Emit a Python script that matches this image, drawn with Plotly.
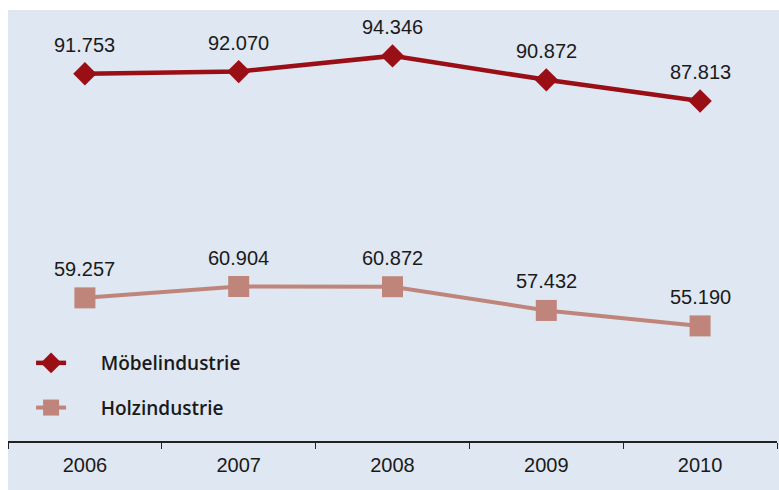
import plotly.graph_objects as go

years = ["2006", "2007", "2008", "2009", "2010"]
moebel = [91.753, 92.070, 94.346, 90.872, 87.813]
holz = [59.257, 60.904, 60.872, 57.432, 55.190]
moebel_labels = ["91.753", "92.070", "94.346", "90.872", "87.813"]
holz_labels = ["59.257", "60.904", "60.872", "57.432", "55.190"]

BG = "#dfe7f3"
RED = "#9a0e16"
ROSE = "#c0857a"
PAD = "\u00a0" * 6

fig = go.Figure()
fig.add_trace(go.Scatter(
    x=years, y=moebel, name=PAD + "Möbelindustrie", mode="lines+markers",
    line=dict(color=RED, width=4.5),
    marker=dict(symbol="diamond", size=18, color=RED),
    legendgroup="a",
))
fig.add_trace(go.Scatter(
    x=years, y=holz, name=PAD + "Holzindustrie", mode="lines+markers",
    line=dict(color=ROSE, width=4),
    marker=dict(symbol="square", size=21, color=ROSE),
    legendgroup="b",
))

for ys, ls in [(moebel, moebel_labels), (holz, holz_labels)]:
    for i, (yv, lv) in enumerate(zip(ys, ls)):
        fig.add_annotation(x=i, y=yv, text=lv, showarrow=False, yshift=29,
                           font=dict(family="Arial, Liberation Sans", size=20, color="#1a1a1a"))

# white strips outside the blue panel
fig.add_shape(type="rect", xref="paper", yref="paper", x0=-0.02, x1=1.01, y0=1.0, y1=1.03,
              fillcolor="white", line=dict(width=0), layer="below")
fig.add_shape(type="rect", xref="paper", yref="paper", x0=-0.02, x1=0.0, y0=-0.2, y1=1.03,
              fillcolor="white", line=dict(width=0), layer="below")

fig.update_layout(
    width=779, height=490,
    margin=dict(l=8, r=2, t=10, b=49),
    paper_bgcolor=BG, plot_bgcolor=BG,
    showlegend=True,
    legend=dict(x=0.03, y=0.225, xanchor="left", yanchor="top",
                bgcolor="rgba(0,0,0,0)", traceorder="grouped", tracegroupgap=17,
                font=dict(family="Open Sans", size=19, color="#1a1a1a", weight=600)),
    xaxis=dict(type="category", range=[-0.5, 4.5], showgrid=False, zeroline=False,
               showline=True, linecolor="#222", linewidth=1.5,
               ticks="outside", tickson="boundaries", ticklen=6, tickcolor="#222",
               ticklabelstandoff=5,
               tickfont=dict(family="Arial, Liberation Sans", size=20, color="#1a1a1a")),
    yaxis=dict(range=[38.5, 101.0], showgrid=False, zeroline=False, showticklabels=False,
               showline=False),
)

fig.write_html("out.html")
